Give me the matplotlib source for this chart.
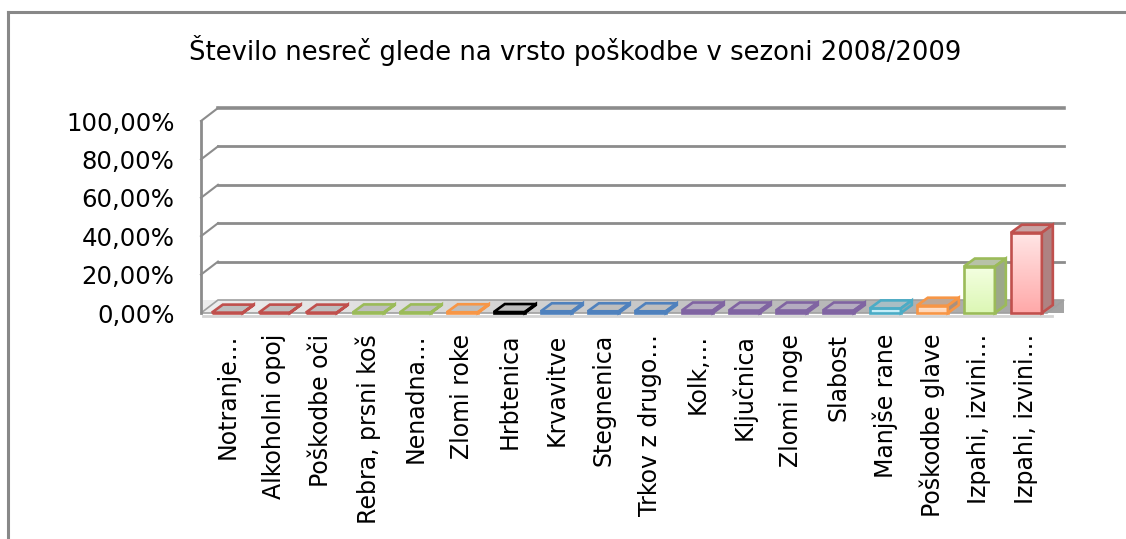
import numpy as np
import matplotlib.pyplot as plt
from matplotlib.patches import Polygon
from matplotlib.colors import to_rgb, LinearSegmentedColormap

title = "Število nesreč glede na vrsto poškodbe v sezoni 2008/2009"
categories = ["Notranje…", "Alkoholni opoj", "Poškodbe oči", "Rebra, prsni koš",
              "Nenadna…", "Zlomi roke", "Hrbtenica", "Krvavitve", "Stegnenica",
              "Trkov z drugo…", "Kolk,…", "Ključnica", "Zlomi noge", "Slabost",
              "Manjše rane", "Poškodbe glave", "Izpahi, izvini…", "Izpahi, izvini…"]
values = [0.2, 0.2, 0.2, 0.3, 0.3, 0.4, 0.5, 0.9, 0.9, 0.9,
          1.3, 1.3, 1.3, 1.3, 2.4, 3.8, 24.2, 41.8]
yticks = [0, 20, 40, 60, 80, 100]

# bar styles (edge, front top/bottom, top face, side face)
edge = ["#C0504D"] * 3 + ["#9BBB59"] * 2 + ["#F79646", "#000000"] + ["#4F81BD"] * 3 \
    + ["#8064A2"] * 4 + ["#4BACC6", "#F79646", "#9BBB59", "#C0504D"]
front = [("#FFFFFF", "#FFFFFF")] * 10 + [("#E6DDF2", "#D8CBEA")] * 4 \
    + [("#D2F4FC", "#BDEBF7"), ("#FFE8D6", "#FFD2B0"), ("#F4FFE2", "#DCF7B4"), ("#FFE6E6", "#FFA9A9")]
topc = ["#BEBEBE"] * 10 + ["#B4ACC0"] * 4 + ["#A9BEC4", "#BDA898", "#B8C2A8", "#C8A4A4"]
sidec = ["#A8A8A8"] * 10 + ["#9C90AE"] * 4 + ["#8EAAB2", "#A89080", "#9CA88A", "#AE8282"]

fig = plt.figure(figsize=(11.26, 5.39), dpi=100)
W, H = 1126, 539
ax = fig.add_axes([201 / W, (H - 313) / H, 846 / W, 192 / H])
x0, x1 = -0.56, 17.44
for s in ax.spines.values():
    s.set_visible(False)

# depth offsets in data units
wdx, wdy = 17 / 47, 13 / 1.92
bdx, bdy = 11 / 47, 8 / 1.92
grid = "#8C8C8C"

# floor with gradient
floor = Polygon([(x0, 0), (x1, 0), (x1 + wdx, wdy), (x0 + wdx, wdy)], closed=True,
                facecolor="none", edgecolor="#A0A0A0", lw=1.2, clip_on=False, zorder=1)
ax.add_patch(floor)
g = np.linspace(0, 1, 256).reshape(1, -1)
im = ax.imshow(g, cmap=LinearSegmentedColormap.from_list("fl", ["#EEEEEE", "#A4A4A4"]),
               extent=(x0, x1 + wdx, 0, wdy), aspect="auto", zorder=0.9, clip_on=False)
im.set_clip_path(floor)
ax.plot([x0 + 0.05, x1 + 0.1], [-1.6, -1.6], color="#D4D4D4", lw=2, clip_on=False, zorder=0.8)

# back wall gridlines and left wall
for v in yticks[1:]:
    ax.plot([x0 + wdx, x1 + wdx], [v + wdy, v + wdy], color=grid, lw=2 if v < 100 else 2.6,
            clip_on=False, zorder=1)
    ax.plot([x0, x0 + wdx], [v, v + wdy], color=grid, lw=1.5, clip_on=False, zorder=1)
ax.plot([x0, x0], [0, 100], color=grid, lw=2, clip_on=False, zorder=1)

# bars
w = 0.66
for i, v in enumerate(values):
    l, r = i - w / 2, i + w / 2
    ft, fb = front[i]
    grad = np.linspace(0, 1, 64).reshape(-1, 1)
    c = np.array(to_rgb(fb)) * (1 - grad[..., None]) + np.array(to_rgb(ft)) * grad[..., None]
    ax.imshow(c, extent=(l, r, 0, v), origin="lower", aspect="auto", zorder=2, clip_on=False)
    ax.add_patch(plt.Rectangle((l, 0), w, v, facecolor="none", edgecolor=edge[i], lw=1.9,
                               zorder=3, clip_on=False))
    ax.add_patch(Polygon([(l, v), (r, v), (r + bdx, v + bdy), (l + bdx, v + bdy)], closed=True,
                         facecolor=topc[i], edgecolor=edge[i], lw=1.9, zorder=3, clip_on=False))
    ax.add_patch(Polygon([(r, 0), (r + bdx, bdy), (r + bdx, v + bdy), (r, v)], closed=True,
                         facecolor=sidec[i], edgecolor=edge[i], lw=1.9, zorder=3, clip_on=False))
ax.set_xlim(x0, x1)
ax.set_ylim(0, 100)

ax.set_yticks(yticks)
ax.set_yticklabels([f"{v:.2f}".replace(".", ",") + "%" for v in yticks], fontsize=17.6)
ax.set_xticks(range(len(categories)))
ax.set_xticklabels(categories, rotation=90, fontsize=17, va="top", ha="center")
ax.tick_params(axis="y", length=0, pad=19)
ax.tick_params(axis="x", length=0, pad=15)

fig.text(575 / W, 1 - 51 / H, title, fontsize=18.6, ha="center", va="center")

# outer chart frame
fig.add_artist(plt.Line2D([8 / W, 8 / W], [0, 1 - 12 / H], color="#888888", lw=2.2))
fig.add_artist(plt.Line2D([8 / W, 1], [1 - 12 / H, 1 - 12 / H], color="#888888", lw=2.2))

fig.savefig("out.png", dpi=100)
